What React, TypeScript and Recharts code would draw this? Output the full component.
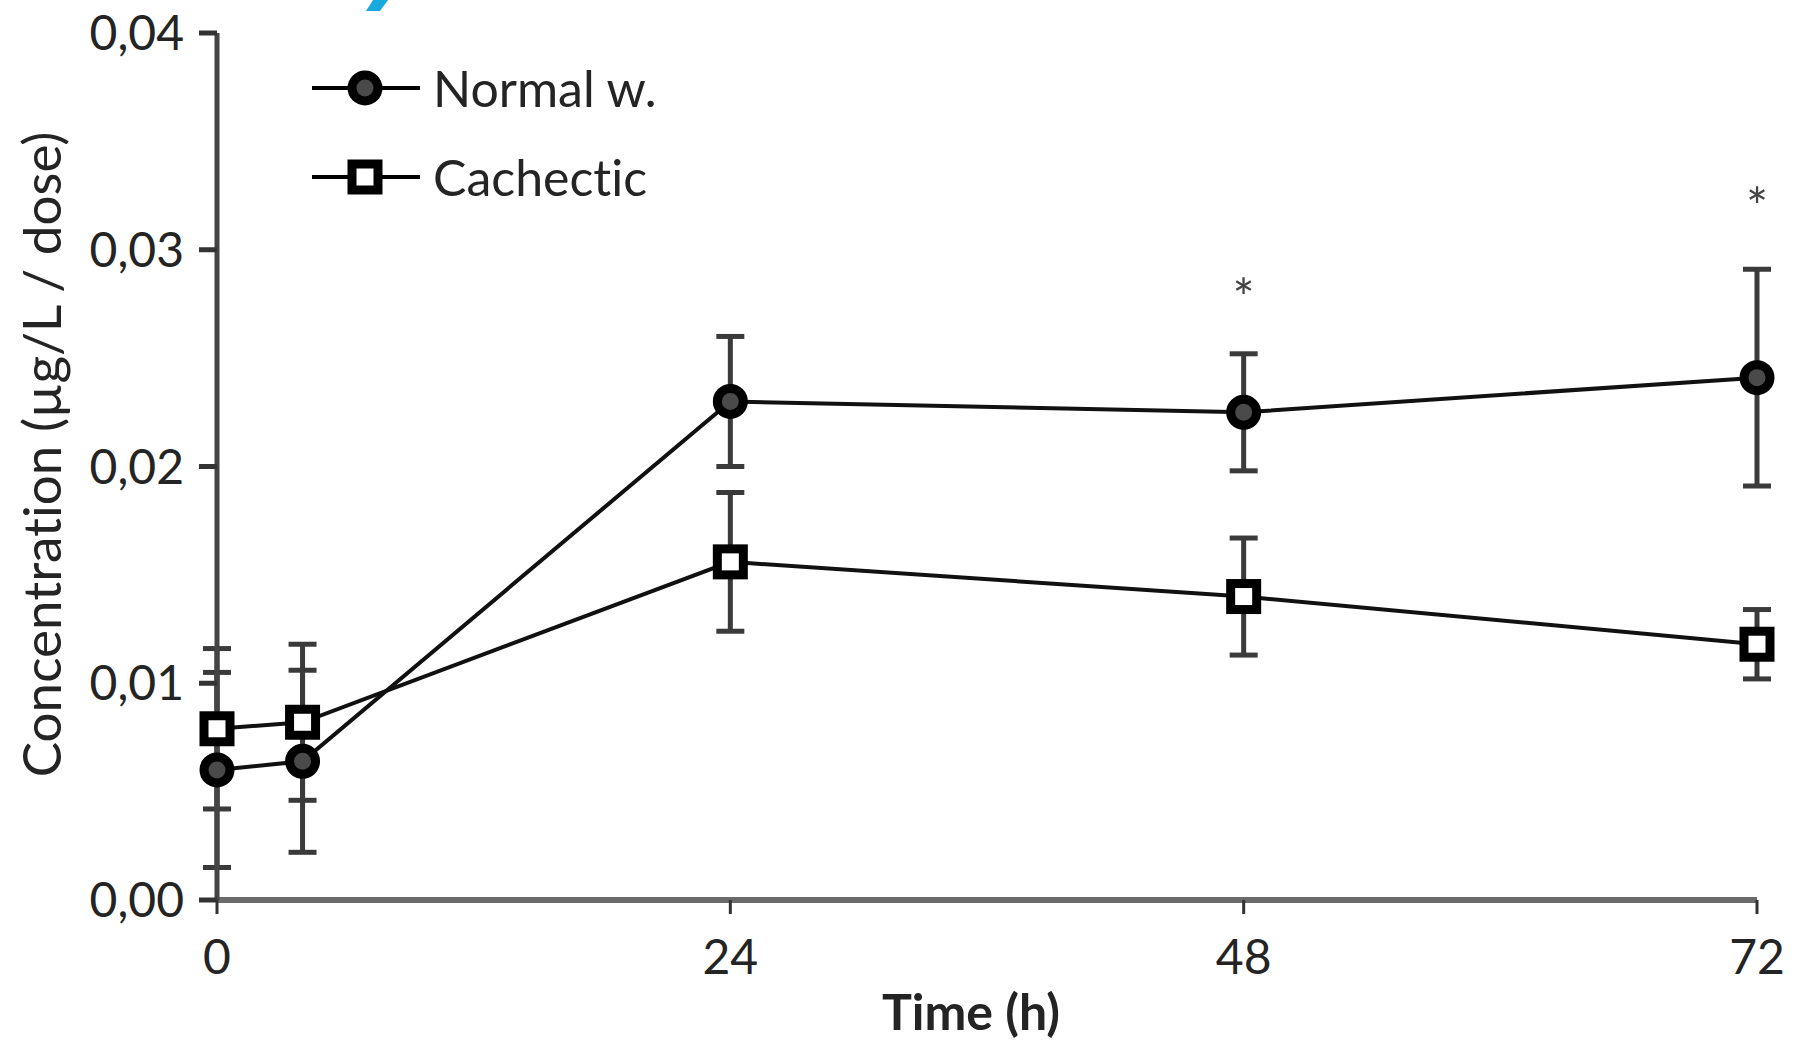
import React from 'react';
import { ComposedChart, Line, XAxis, YAxis, ErrorBar, Legend } from 'recharts';

// time points (h)
const times = [0, 4, 24, 48, 72];

// Normal weight group, mean and SD (ug/L / dose)
const normalMean = [0.006, 0.0064, 0.023, 0.0225, 0.0241];
const normalSd = [0.0045, 0.0042, 0.003, 0.0027, 0.005];

// Cachectic group
const cachecticMean = [0.0079, 0.0082, 0.0156, 0.014, 0.0118];
const cachecticSd = [0.0037, 0.0036, 0.0032, 0.0027, 0.0016];

// significance marks (*) placed above the normal group
const starLevel = [null, null, null, 0.0282, 0.0324];

const xTicks = [0, 24, 48, 72];
const yTicks = [0, 0.01, 0.02, 0.03, 0.04];

const data = times.map((t, i) => ({
    time: t,
    normal: normalMean[i],
    normalErr: normalSd[i],
    cachectic: cachecticMean[i],
    cachecticErr: cachecticSd[i],
    star: starLevel[i],
}));

const FONT = 'Lato, "Open Sans", sans-serif';
const TEXT = '#242424';
const noLig = { fontVariantLigatures: 'none' as const };

const CircleDot = (props: any) => {
    const { cx, cy, index } = props;
    if (cx == null || cy == null) return <g key={`n-${index}`} />;
    return <circle key={`n-${index}`} cx={cx} cy={cy} r={13} fill="#4a4a4a" stroke="#000" strokeWidth={9} />;
};

const SquareDot = (props: any) => {
    const { cx, cy, index } = props;
    if (cx == null || cy == null) return <g key={`c-${index}`} />;
    return <rect key={`c-${index}`} x={cx - 13} y={cy - 13} width={26} height={26} fill="#fff" stroke="#000" strokeWidth={9} />;
};

const StarDot = (props: any) => {
    const { cx, cy, index, value } = props;
    if (cx == null || cy == null || value == null) return <g key={`s-${index}`} />;
    return (
        <text key={`s-${index}`} x={cx} y={cy + 28} textAnchor="middle" fontSize={52} fill="#444" fontFamily={FONT}>
            *
        </text>
    );
};

const renderLegend = () => (
    <svg width={440} height={180}>
        <line x1={7} x2={115} y1={38} y2={38} stroke="#000" strokeWidth={4} />
        <circle cx={60} cy={38} r={13} fill="#4a4a4a" stroke="#000" strokeWidth={9} />
        <text x={128} y={57} fontSize={50} fill={TEXT} fontFamily={FONT} style={noLig}>Normal w.</text>
        <line x1={7} x2={115} y1={127} y2={127} stroke="#000" strokeWidth={4} />
        <rect x={47} y={114} width={26} height={26} fill="#fff" stroke="#000" strokeWidth={9} />
        <text x={128} y={146} fontSize={50} fill={TEXT} fontFamily={FONT} style={noLig}>Cachectic</text>
    </svg>
);

export default function App() {
    return (
        <div style={{ position: 'absolute', left: 0, top: 0, width: 1801, height: 1040, background: '#fff', fontFamily: FONT }}>
            {/* cut-off panel letter at the top edge */}
            <svg width={1801} height={20} style={{ position: 'absolute', left: 0, top: 0 }}>
                <polygon points="373,0 388,0 380,11 366,11" fill="#19a9dc" />
            </svg>
            <ComposedChart
                width={1801}
                height={1040}
                data={data}
                margin={{ top: 33, right: 44, bottom: 20, left: 27 }}
            >
                <XAxis
                    dataKey="time"
                    type="number"
                    domain={[0, 72]}
                    ticks={xTicks}
                    height={120}
                    axisLine={{ stroke: '#6b6b6b', strokeWidth: 6 }}
                    tickLine={{ stroke: '#333', strokeWidth: 3 }}
                    tickSize={14}
                    tickMargin={26}
                    tick={{ fill: TEXT, fontSize: 48, fontFamily: FONT }}
                    label={{
                        content: ({ viewBox }: any) => (
                            <text
                                x={viewBox.x + viewBox.width / 2 - 16}
                                y={viewBox.y + 130}
                                textAnchor="middle"
                                fontSize={50}
                                fontWeight={700}
                                fill={TEXT}
                                fontFamily={FONT}
                            >
                                Time (h)
                            </text>
                        ),
                    }}
                />
                <YAxis
                    type="number"
                    domain={[0, 0.04]}
                    ticks={yTicks}
                    width={190}
                    axisLine={{ stroke: '#444', strokeWidth: 5 }}
                    tickLine={{ stroke: '#333', strokeWidth: 5 }}
                    tickSize={18}
                    tickMargin={15}
                    tickFormatter={(v: number) => v.toFixed(2).replace('.', ',')}
                    tick={{ fill: TEXT, fontSize: 48, fontFamily: FONT }}
                    label={{
                        content: ({ viewBox }: any) => {
                            const cx = viewBox.x + 13;
                            const cy = viewBox.y + viewBox.height / 2 - 12;
                            return (
                                <text
                                    x={cx}
                                    y={cy}
                                    transform={`rotate(-90, ${cx}, ${cy})`}
                                    textAnchor="middle"
                                    dominantBaseline="central"
                                    fontSize={53}
                                    fill={TEXT}
                                    fontFamily={FONT}
                                    style={noLig}
                                >
                                    Concentration (µg/L / dose)
                                </text>
                            );
                        },
                    }}
                />
                <Legend
                    layout="horizontal"
                    verticalAlign="middle"
                    align="center"
                    content={renderLegend}
                    wrapperStyle={{ left: 305, top: 50, width: 440, height: 180 }}
                />
                <Line
                    dataKey="cachectic"
                    name="Cachectic"
                    stroke="#111"
                    strokeWidth={4}
                    dot={SquareDot}
                    activeDot={false}
                    isAnimationActive={false}
                >
                    <ErrorBar dataKey="cachecticErr" direction="y" width={14} stroke="#3a3a3a" strokeWidth={5} />
                </Line>
                <Line
                    dataKey="normal"
                    name="Normal w."
                    stroke="#111"
                    strokeWidth={4}
                    dot={CircleDot}
                    activeDot={false}
                    isAnimationActive={false}
                >
                    <ErrorBar dataKey="normalErr" direction="y" width={14} stroke="#3a3a3a" strokeWidth={5} />
                </Line>
                <Line
                    dataKey="star"
                    stroke="none"
                    dot={StarDot}
                    activeDot={false}
                    legendType="none"
                    isAnimationActive={false}
                />
            </ComposedChart>
        </div>
    );
}
